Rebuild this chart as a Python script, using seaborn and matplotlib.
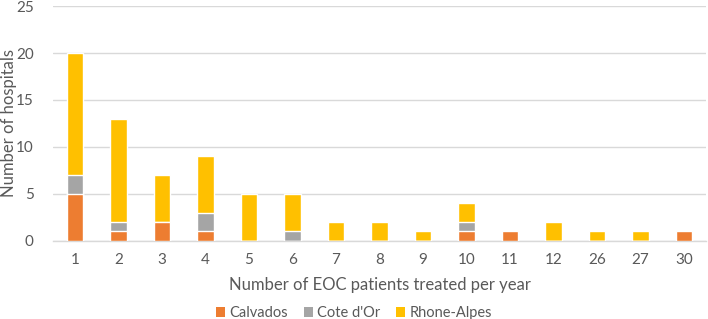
import numpy as np
import pandas as pd
import matplotlib
matplotlib.use("Agg")
import matplotlib.pyplot as plt
import seaborn as sns
from matplotlib.patches import Patch

# Data
categories = ["1", "2", "3", "4", "5", "6", "7", "8", "9", "10", "11", "12", "26", "27", "30"]
calvados = [5, 1, 2, 1, 0, 0, 0, 0, 0, 1, 1, 0, 0, 0, 1]
cote_dor = [2, 1, 0, 2, 0, 1, 0, 0, 0, 1, 0, 0, 0, 0, 0]
rhone_alpes = [13, 11, 5, 6, 5, 4, 2, 2, 1, 2, 0, 2, 1, 1, 0]

series_names = ["Calvados", "Cote d'Or", "Rhone-Alpes"]
colors = ["#ED7D31", "#A5A5A5", "#FFC000"]
text_color = "#595959"

sns.set_theme(style="white")
plt.rcParams["font.family"] = ["Lato", "DejaVu Sans"]

df = pd.DataFrame({
    "cat": categories,
    "Calvados": calvados,
    "Cote d'Or": cote_dor,
    "Rhone-Alpes": rhone_alpes,
})
# cumulative heights for stacking (draw tallest first)
df["c1"] = df["Calvados"]
df["c2"] = df["c1"] + df["Cote d'Or"]
df["c3"] = df["c2"] + df["Rhone-Alpes"]

fig = plt.figure(figsize=(7.08, 3.19), dpi=100)
ax = fig.add_axes([0.075, 0.245, 0.922, 0.736])

for col, color in zip(["c3", "c2", "c1"], colors[::-1]):
    sns.barplot(data=df, x="cat", y=col, order=categories, color=color,
                width=0.38, saturation=1, ax=ax, zorder=3)

ax.set_ylim(0, 25)
ax.set_yticks([0, 5, 10, 15, 20, 25])
ax.set_xlim(-0.5, len(categories) - 0.5)
ax.yaxis.grid(True, color="#D9D9D9", linewidth=1, zorder=0)
ax.set_axisbelow(True)
for s in ["top", "right", "left"]:
    ax.spines[s].set_visible(False)
ax.spines["bottom"].set_color("#D9D9D9")
ax.spines["bottom"].set_linewidth(1)
ax.tick_params(axis="both", length=0, colors=text_color, labelsize=11)
ax.tick_params(axis="x", pad=9)
ax.tick_params(axis="y", pad=14)

ax.set_xlabel("Number of EOC patients treated per year", color=text_color, fontsize=12, labelpad=7)
ax.set_ylabel("Number of hospitals", color=text_color, fontsize=12)
ax.yaxis.set_label_coords(-0.056, 0.5)

handles = [Patch(facecolor=c, edgecolor="none") for c in colors]
fig.legend(handles, series_names, loc="lower center", bbox_to_anchor=(0.5, -0.045), ncol=3,
           frameon=False, fontsize=10.5, labelcolor=text_color, handlelength=0.6,
           handleheight=0.6, handletextpad=0.3, columnspacing=1.1)

fig.savefig("out.png", dpi=100)
